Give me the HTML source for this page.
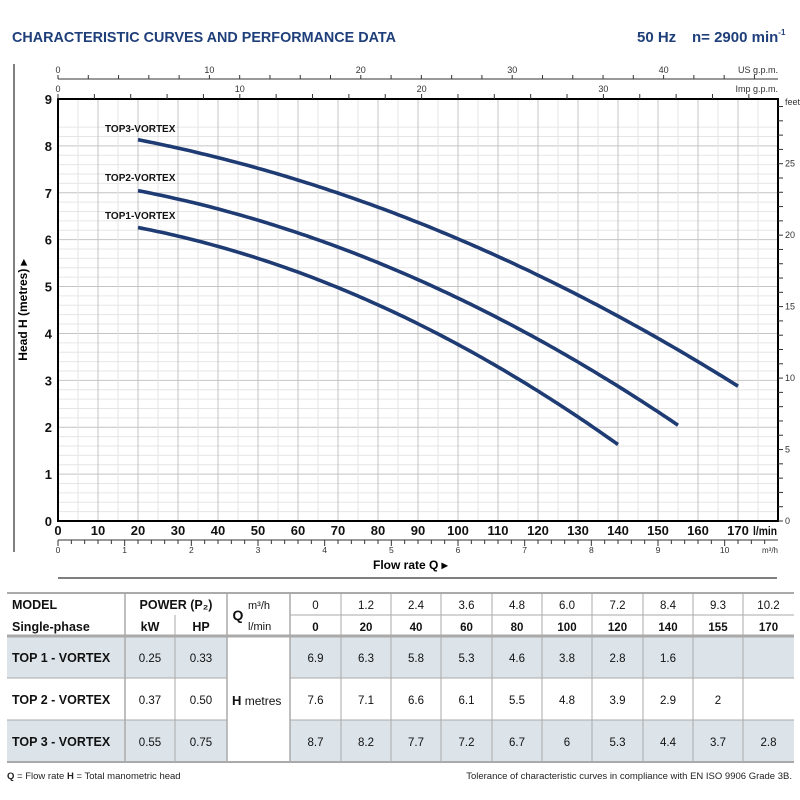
<!DOCTYPE html>
<html><head><meta charset="utf-8"><style>
body{margin:0;background:#fff;width:800px;height:800px;overflow:hidden}
svg{display:block;font-family:"Liberation Sans",sans-serif}
</style></head><body>
<svg id="s" width="800" height="800" xmlns="http://www.w3.org/2000/svg">
<text x="12" y="42" font-size="15" font-weight="bold" fill="#1f3f7a" textLength="384" lengthAdjust="spacingAndGlyphs">CHARACTERISTIC CURVES AND PERFORMANCE DATA</text>
<text x="637" y="42" font-size="15" font-weight="bold" fill="#1f3f7a">50 Hz</text>
<text x="692" y="42" font-size="15" font-weight="bold" fill="#1f3f7a">n= 2900 min<tspan font-size="8" dy="-7">-1</tspan></text>
<line x1="14" y1="64" x2="14" y2="552" stroke="#555" stroke-width="1.5"/>
<g id="grid"></g>
<rect x="58" y="99" width="720" height="422" fill="none" stroke="#000" stroke-width="2"/>
<g id="ax" font-size="9" fill="#333"></g>
<text transform="translate(27,310) rotate(-90)" font-size="12" font-weight="bold" text-anchor="middle">Head H  (metres) ▸</text>
<text x="373" y="569" font-size="12" font-weight="bold">Flow rate  Q  ▸</text>
<line x1="58" y1="578" x2="777" y2="578" stroke="#333" stroke-width="1.2"/>
<g fill="none" stroke="#1f3b73" stroke-width="3.6" stroke-linecap="butt">
<path id="c3"/><path id="c2"/><path id="c1"/>
</g>
<g font-size="10" font-weight="bold" fill="#111">
<text x="105" y="132">TOP3-VORTEX</text>
<text x="105" y="181">TOP2-VORTEX</text>
<text x="105" y="219">TOP1-VORTEX</text>
</g>
<g id="tbl"></g>
<text x="7" y="779" font-size="9.5" fill="#222"><tspan font-weight="bold">Q</tspan> = Flow rate   <tspan font-weight="bold">H</tspan> = Total manometric head</text>
<text x="792" y="779" font-size="9.5" fill="#222" text-anchor="end">Tolerance of characteristic curves in compliance with EN ISO 9906 Grade 3B.</text>
</svg>
<script>
const NS="http://www.w3.org/2000/svg";
function el(p,t,a,txt){const e=document.createElementNS(NS,t);for(const k in a)e.setAttribute(k,a[k]);if(txt!==undefined)e.textContent=txt;p.appendChild(e);return e;}
const g=document.getElementById('grid'),ax=document.getElementById('ax');
const X=q=>58+4*q, Y=h=>521-46.89*h;
for(let i=1;i<=42;i++){const y=Y(i*0.2);if(y<99.5)break;el(g,'line',{x1:58,x2:778,y1:y,y2:y,stroke:i%5==0?'#c4c4c4':'#e6e6e6','stroke-width':1});}
for(let q=5;q<180;q+=5){el(g,'line',{x1:X(q),x2:X(q),y1:99,y2:521,stroke:q%10==0?'#c4c4c4':'#e6e6e6','stroke-width':1});}
for(let h=0;h<=9;h++)el(ax,'text',{x:52,y:Y(h)+5,'font-size':13,'font-weight':'bold',fill:'#111','text-anchor':'end'},h);
for(let q=0;q<=170;q+=10)el(ax,'text',{x:X(q),y:535,'font-size':13,'font-weight':'bold',fill:'#111','text-anchor':'middle'},q);
el(ax,'text',{x:753,y:535,'font-size':12,'font-weight':'bold',fill:'#111',textLength:24,lengthAdjust:'spacingAndGlyphs'},'l/min');
el(ax,'line',{x1:58,x2:778,y1:540,y2:540,stroke:'#333'});
for(let i=0;i<=54;i++){const x=58+i*0.2*66.667;if(x>778)break;el(ax,'line',{x1:x,x2:x,y1:540,y2:i%5==0?546:544,stroke:'#333'});if(i%5==0&&i/5<=10)el(ax,'text',{x:x,y:553,'text-anchor':'middle','font-size':8.5},i/5);}
el(ax,'text',{x:778,y:553,'text-anchor':'end','font-size':8},'m³/h');
el(ax,'line',{x1:58,x2:778,y1:79,y2:79,stroke:'#333'});
for(let i=0;i<=47;i+=2){const x=58+i*15.14;if(x>778)break;el(ax,'line',{x1:x,x2:x,y1:79,y2:75,stroke:'#333'});if(i%10==0)el(ax,'text',{x:x,y:73,'text-anchor':'middle'},i);}
el(ax,'text',{x:778,y:73,'text-anchor':'end'},'US g.p.m.');
for(let i=0;i<=39;i+=2){const x=58+i*18.18;if(x>778)break;el(ax,'line',{x1:x,x2:x,y1:99,y2:94,stroke:'#333'});if(i%10==0)el(ax,'text',{x:x,y:92,'text-anchor':'middle'},i);}
el(ax,'text',{x:778,y:92,'text-anchor':'end'},'Imp g.p.m.');
for(let f=0;f<=29;f++){const y=521-f*0.3048*46.89;el(ax,'line',{x1:778,x2:783,y1:y,y2:y,stroke:'#333'});if(f%5==0)el(ax,'text',{x:785,y:y+3,'font-size':9},f);}
el(ax,'text',{x:785,y:105,'font-size':9},'feet');
function fit(pts){let S=[[0,0,0],[0,0,0],[0,0,0]],B=[0,0,0];for(const [q,h] of pts){const v=[1,q,q*q];for(let i=0;i<3;i++){B[i]+=v[i]*h;for(let j=0;j<3;j++)S[i][j]+=v[i]*v[j];}}
for(let i=0;i<3;i++){for(let k=i+1;k<3;k++){const f=S[k][i]/S[i][i];for(let j=i;j<3;j++)S[k][j]-=f*S[i][j];B[k]-=f*B[i];}}
const c=[0,0,0];for(let i=2;i>=0;i--){let s=B[i];for(let j=i+1;j<3;j++)s-=S[i][j]*c[j];c[i]=s/S[i][i];}return c;}
function curve(id,pts){const c=fit(pts);const q0=pts[0][0],q1=pts[pts.length-1][0];let d='';for(let q=q0;q<=q1+0.01;q+=1){const h=c[0]+c[1]*q+c[2]*q*q;d+=(d?' L':'M')+X(q).toFixed(1)+','+Y(h).toFixed(1);}document.getElementById(id).setAttribute('d',d);}
curve('c3',[[20,8.2],[40,7.7],[60,7.2],[80,6.7],[100,6],[120,5.3],[140,4.4],[155,3.7],[170,2.8]]);
curve('c2',[[20,7.1],[40,6.6],[60,6.1],[80,5.5],[100,4.8],[120,3.9],[140,2.9],[155,2]]);
curve('c1',[[20,6.3],[40,5.8],[60,5.3],[80,4.6],[100,3.8],[120,2.8],[140,1.6]]);
const t=document.getElementById('tbl');
const cx=[7,125,175,227,290,341,391,441,492,542,592,643,693,743,794];
const rows=[[636,678],[678,720],[720,762]];
const sh='#dce4ea';
[0,2].forEach(r=>{el(t,'rect',{x:7,y:rows[r][0],width:220,height:42,fill:sh});el(t,'rect',{x:290,y:rows[r][0],width:504,height:42,fill:sh});});
const L=(x1,y1,x2,y2,w)=>el(t,'line',{x1,y1,x2,y2,stroke:'#aaa','stroke-width':w||1});
L(7,593,794,593,2);L(7,636,794,636,3);L(7,762,794,762,2);
L(7,678,227,678);L(7,720,227,720);L(290,678,794,678);L(290,720,794,720);L(290,615,794,615);
[125,227,290].forEach(x=>L(x,593,x,762,1.5));L(175,615,175,762);
for(let i=5;i<14;i++)L(cx[i],593,cx[i],762);
const T=(x,y,s,o)=>el(t,'text',Object.assign({x,y,'font-size':11.5,fill:'#111','text-anchor':'middle'},o||{}),s);
T(12,609,'MODEL',{'text-anchor':'start','font-weight':'bold','font-size':12.5});
T(12,631,'Single-phase',{'text-anchor':'start','font-weight':'bold','font-size':12.5});
T(176,609,'POWER (P₂)',{'font-weight':'bold','font-size':12.5});
T(150,631,'kW',{'font-weight':'bold','font-size':12.5});T(201,631,'HP',{'font-weight':'bold','font-size':12.5});
T(238,620,'Q',{'font-weight':'bold','font-size':14});
T(248,609,'m³/h',{'text-anchor':'start','font-size':11});T(248,630,'l/min',{'text-anchor':'start','font-size':11});
const m3=['0','1.2','2.4','3.6','4.8','6.0','7.2','8.4','9.3','10.2'],lm=['0','20','40','60','80','100','120','140','155','170'];
for(let i=0;i<10;i++){const x=(cx[i+4]+cx[i+5])/2;T(x,609,m3[i]);T(x,631,lm[i],{'font-weight':'bold'});}
const names=['TOP 1 - VORTEX','TOP 2 - VORTEX','TOP 3 - VORTEX'],kw=['0.25','0.37','0.55'],hp=['0.33','0.50','0.75'];
const data=[['6.9','6.3','5.8','5.3','4.6','3.8','2.8','1.6','',''],['7.6','7.1','6.6','6.1','5.5','4.8','3.9','2.9','2',''],['8.7','8.2','7.7','7.2','6.7','6','5.3','4.4','3.7','2.8']];
for(let r=0;r<3;r++){const y=rows[r][0]+26;T(12,y,names[r],{'text-anchor':'start','font-weight':'bold','font-size':12.5});T(150,y,kw[r]);T(201,y,hp[r]);for(let i=0;i<10;i++)T((cx[i+4]+cx[i+5])/2,y,data[r][i]);}
el(t,'text',{x:232,y:705,'font-size':12,fill:'#111'}).innerHTML='<tspan font-weight="bold" font-size="13">H</tspan>  metres';
</script>
</body></html>
